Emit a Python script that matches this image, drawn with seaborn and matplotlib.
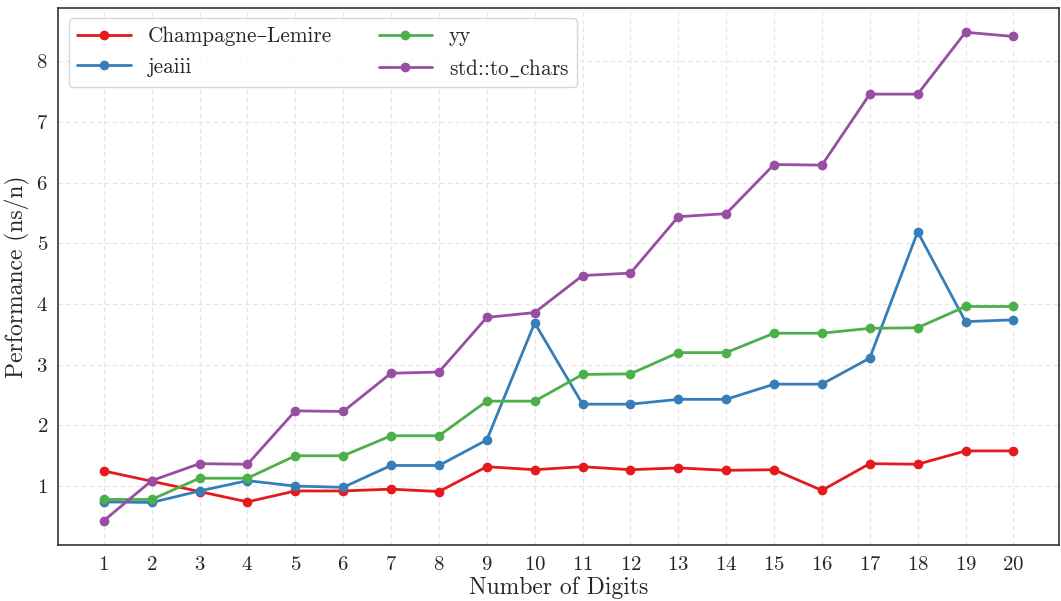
import matplotlib
matplotlib.use("Agg")
import matplotlib.pyplot as plt
import pandas as pd
import seaborn as sns

digits = list(range(1, 21))
champagne_lemire = [1.25, 1.08, 0.91, 0.74, 0.92, 0.92, 0.95, 0.91, 1.32, 1.27,
                    1.32, 1.27, 1.30, 1.26, 1.27, 0.93, 1.37, 1.36, 1.58, 1.58]
jeaiii = [0.74, 0.73, 0.92, 1.09, 1.00, 0.98, 1.34, 1.34, 1.76, 3.69,
          2.35, 2.35, 2.43, 2.43, 2.68, 2.68, 3.11, 5.19, 3.71, 3.74]
yy = [0.78, 0.78, 1.13, 1.13, 1.50, 1.50, 1.83, 1.83, 2.40, 2.40,
      2.84, 2.85, 3.20, 3.20, 3.52, 3.52, 3.60, 3.61, 3.96, 3.96]
std_to_chars = [0.43, 1.09, 1.37, 1.36, 2.24, 2.23, 2.86, 2.88, 3.78, 3.86,
                4.47, 4.51, 5.44, 5.49, 6.30, 6.29, 7.46, 7.46, 8.48, 8.41]
# cmr10 has no real underscore, so draw it with mathtext
methods = ["Champagne\u2013Lemire", "jeaiii", "yy", r"std::to$\_$chars"]

rows = []
for name, vals in zip(methods, [champagne_lemire, jeaiii, yy, std_to_chars]):
    for d, v in zip(digits, vals):
        rows.append({"digits": d, "ns": v, "method": name})
df = pd.DataFrame(rows)

sns.set_style("white")
plt.rcParams["font.family"] = ["cmr10", "DejaVu Serif"]
plt.rcParams["mathtext.fontset"] = "cm"
plt.rcParams["axes.formatter.use_mathtext"] = True

fig, ax = plt.subplots(figsize=(10.61, 6.01), dpi=100)
fig.subplots_adjust(left=0.055, right=0.998, bottom=0.093, top=0.987)

sns.lineplot(data=df, x="digits", y="ns", hue="method", hue_order=methods,
             palette="Set1", marker="o", markersize=7, markeredgewidth=0,
             linewidth=2, ax=ax)

ax.set_xticks(digits)
ax.tick_params(axis="both", labelsize=15, direction="out", length=4, color="#555555")
ax.set_xlabel("Number of Digits", fontsize=17, labelpad=2)
ax.set_ylabel("Performance (ns/n)", fontsize=17)
ax.grid(True, linestyle=(0, (4, 3)), color="#e4e4e4", linewidth=0.8)
for sp in ax.spines.values():
    sp.set_color("#333333")
    sp.set_linewidth(1.2)

ax.legend(ncol=2, fontsize=15.3, loc="upper left", frameon=True,
          edgecolor="#cccccc", columnspacing=2.2, handlelength=2.5)

fig.savefig("out.png", dpi=100)
